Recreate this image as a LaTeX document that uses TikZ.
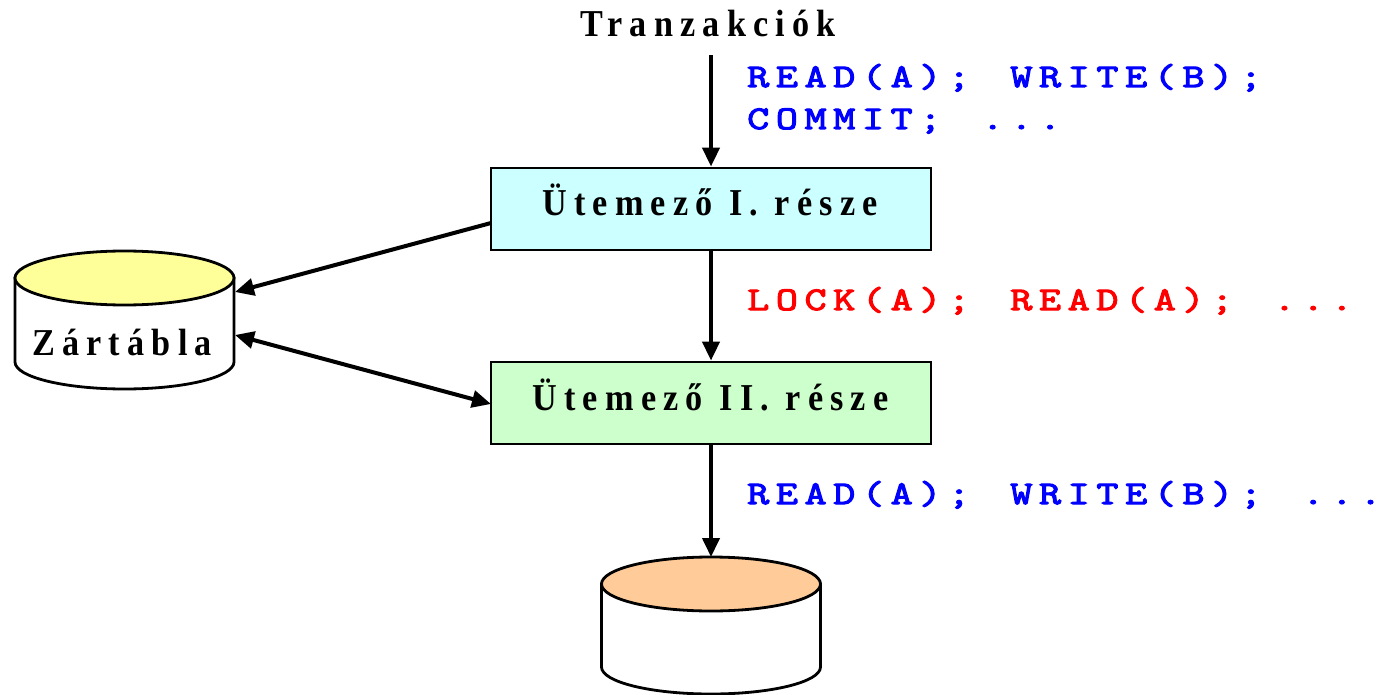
\documentclass[tikz,border=0pt]{standalone}
\usepackage{fontspec}
\usetikzlibrary{arrows.meta}
\newfontfamily\lblfont[LetterSpace=19,FakeStretch=0.9,WordSpace=1.05]{Liberation Serif}
\newfontfamily\codefont[LetterSpace=20,FakeStretch=1.3,WordSpace=1.4,FakeBold=3.5]{Latin Modern Mono}
\definecolor{cyanbox}{RGB}{204,255,255}
\definecolor{greenbox}{RGB}{204,255,204}
\definecolor{yellowtop}{RGB}{255,255,153}
\definecolor{orangetop}{RGB}{255,204,153}
\definecolor{codeblue}{RGB}{0,0,255}
\definecolor{codered}{RGB}{255,0,0}
\tikzset{
  x=1pt,y=-1pt,
  boxstyle/.style={draw=black,line width=2.8pt,minimum width=440pt,minimum height=82pt,inner sep=0pt,anchor=center},
  lbl/.style={font=\lblfont\bfseries\fontsize{38}{44}\selectfont,text=black,inner sep=0pt,anchor=base},
  code/.style={font=\codefont\fontsize{33}{41}\selectfont,inner sep=0pt,anchor=base west},
  conn/.style={line width=4pt,-{Triangle[length=19pt,width=17pt]}},
  connboth/.style={line width=4pt,{Triangle[length=19pt,width=17pt]}-{Triangle[length=19pt,width=17pt]}},
  cylside/.style={draw=black,line width=2.8pt,fill=white},
  cyltop/.style={draw=black,line width=2.8pt}
}
\begin{document}
\begin{tikzpicture}
\useasboundingbox (0,0) rectangle (1380,695);
% cylinders
\draw[cylside] (15,278) -- (15,362) arc[start angle=180,end angle=360,x radius=109.5pt,y radius=27pt] -- (234,278) -- cycle;
\draw[cyltop,fill=yellowtop] (124.5,278) ellipse[x radius=109.5pt,y radius=27pt];
\draw[cylside] (601.5,584) -- (601.5,667) arc[start angle=180,end angle=360,x radius=109.5pt,y radius=27pt] -- (820.5,584) -- cycle;
\draw[cyltop,fill=orangetop] (711,584) ellipse[x radius=109.5pt,y radius=27pt];
% nodes
\node[lbl] (tr) at (708,37) {Tranzakciók};
\node[boxstyle,fill=cyanbox] (b1) at (711,209) {};
\node[boxstyle,fill=greenbox] (b2) at (711,403) {};
\node[lbl] (b1t) at (710,215) {Ütemező I. része};
\node[lbl] (b2t) at (710.5,410) {Ütemező II. része};
\node[lbl] (zt) at (122,355) {Zártábla};
\node[code,text=codeblue] (c1) at (747,87) {READ(A); WRITE(B);};
\node[code,text=codeblue] (c2) at (747,129) {COMMIT; ...};
\node[code,text=codered] (c3) at (747,310) {LOCK(A); READ(A); ...};
\node[code,text=codeblue] (c4) at (747,504) {READ(A); WRITE(B); ...};
% connector ends
\coordinate (trout) at (711,55);
\coordinate (ztin) at (235,292);
\coordinate (ztio) at (235,335);
\coordinate (b1w) at (491,223);
\coordinate (b2w) at (491,404);
\coordinate (dbtop) at (711,557);
% connectors
\draw[conn] (trout) -- (b1.north);
\draw[conn] (b1w) -- (ztin);
\draw[conn] (b1.south) -- (b2.north);
\draw[connboth] (ztio) -- (b2w);
\draw[conn] (b2.south) -- (dbtop);
\end{tikzpicture}
\end{document}
